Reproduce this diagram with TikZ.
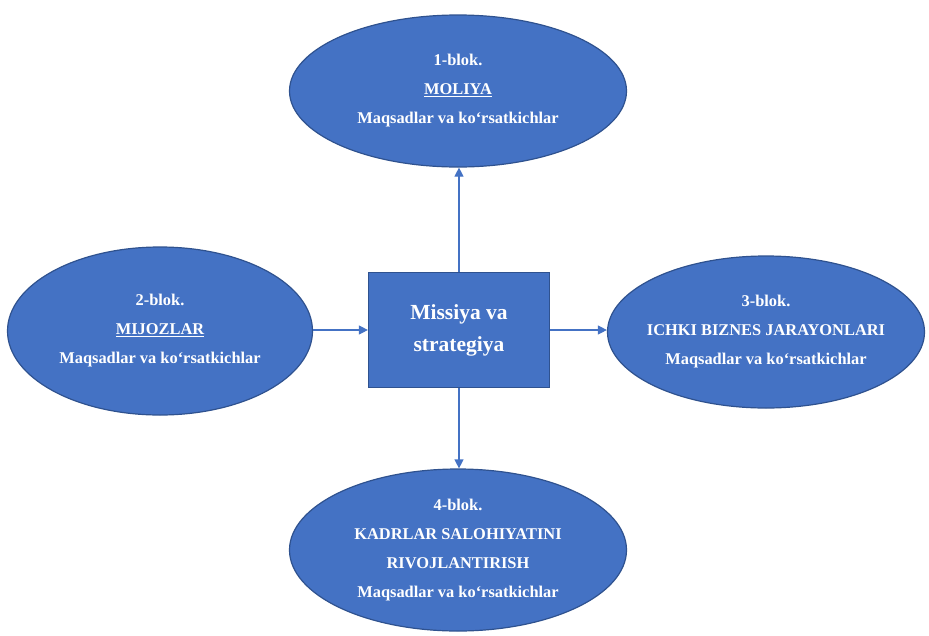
\documentclass[tikz,border=0pt]{standalone}
\usepackage{fontspec}
\setmainfont{Liberation Serif}
\usepackage{xcolor}
\usetikzlibrary{shapes.geometric,arrows.meta}
\definecolor{blokblue}{HTML}{4472C4}
\definecolor{blokedge}{HTML}{2F528F}
\tikzstyle{blok} = [ellipse, draw=blokedge, fill=blokblue, line width=1.2pt,
    inner sep=-16pt, text=white, align=center,
    font=\bfseries\fontsize{16.4}{29}\selectfont]
\tikzstyle{markaz} = [rectangle, draw=blokedge, fill=blokblue, line width=1.2pt,
    minimum width=181pt, minimum height=115pt, text=white, align=center,
    font=\bfseries\fontsize{21.5}{32}\selectfont]
\tikzstyle{strelka} = [draw=blokblue, line width=1.2pt, -{Triangle[width=9pt,length=9pt]}]

\begin{document}
\begin{tikzpicture}[x=1pt,y=-1pt]
\useasboundingbox (0,0) rectangle (929,635);
\node [markaz] (missiya) at (459,330) {Missiya va\\strategiya};
\node [blok, minimum width=337pt, minimum height=152pt] (moliya) at (458,91)
    {1-blok.\\\underline{MOLIYA}\\Maqsadlar va ko‘rsatkichlar};
\node [blok, minimum width=305pt, minimum height=168pt] (mijozlar) at (160,331)
    {2-blok.\\\underline{MIJOZLAR}\\Maqsadlar va ko‘rsatkichlar};
\node [blok, minimum width=317pt, minimum height=152pt] (jarayon) at (766,332)
    {3-blok.\\ICHKI BIZNES JARAYONLARI\\Maqsadlar va ko‘rsatkichlar};
\node [blok, minimum width=337pt, minimum height=162pt] (kadrlar) at (458,550)
    {4-blok.\\KADRLAR SALOHIYATINI\\RIVOJLANTIRISH\\Maqsadlar va ko‘rsatkichlar};
\draw [strelka] (missiya.north) -- (missiya.north |- moliya.south);
\draw [strelka] (missiya.west -| mijozlar.east) -- (missiya.west);
\draw [strelka] (missiya.east) -- (missiya.east -| jarayon.west);
\draw [strelka] (missiya.south) -- (missiya.south |- kadrlar.north);
\end{tikzpicture}
\end{document}
